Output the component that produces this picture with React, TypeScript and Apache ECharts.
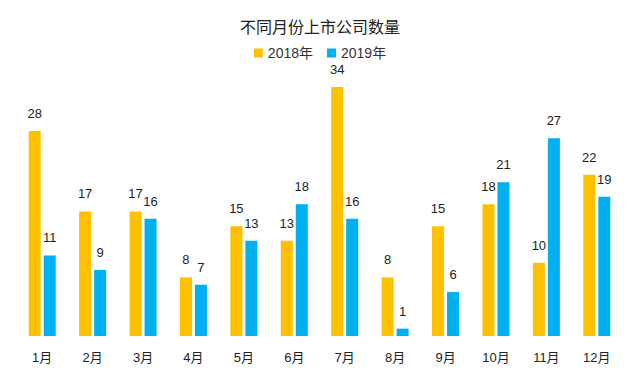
import React, { useEffect, useRef } from "react";
import * as echarts from "echarts";

const categories = ["1月", "2月", "3月", "4月", "5月", "6月", "7月", "8月", "9月", "10月", "11月", "12月"];
const series2018 = [28, 17, 17, 8, 15, 13, 34, 8, 15, 18, 10, 22];
const series2019 = [11, 9, 16, 7, 13, 18, 16, 1, 6, 21, 27, 19];
const seriesNames = ["2018年", "2019年"];
const titleText = "不同月份上市公司数量";

const FONT = "'Liberation Sans', 'Noto Sans CJK SC', sans-serif";

export default function App() {
  const ref = useRef<HTMLDivElement>(null);
  useEffect(() => {
    if (!ref.current) return;
    const chart = echarts.init(ref.current, undefined, { renderer: "svg" });
    const label = {
      show: true,
      position: "top" as const,
      distance: 11,
      color: "#222",
      fontSize: 13,
      fontFamily: FONT,
    };
    chart.setOption({
      animation: false,
      backgroundColor: "#fff",
      title: {
        text: titleText,
        left: "center",
        top: 14,
        textStyle: { fontSize: 16, fontWeight: "normal", color: "#222", fontFamily: FONT },
      },
      legend: {
        top: 41,
        left: "center",
        itemWidth: 9,
        itemHeight: 9,
        itemGap: 14,
        icon: "rect",
        textStyle: { fontSize: 14, color: "#333", fontFamily: FONT },
        data: seriesNames,
      },
      grid: { left: 17, right: 18, top: 43, bottom: 52 },
      xAxis: {
        type: "category",
        data: categories,
        axisLine: { show: false },
        axisTick: { show: false },
        axisLabel: { margin: 15, fontSize: 13, color: "#222", fontFamily: FONT },
      },
      yAxis: {
        type: "value",
        min: 0,
        max: 40,
        interval: 10,
        show: false,
        splitLine: { show: false },
      },
      series: [
        {
          name: seriesNames[0],
          type: "bar",
          data: series2018,
          barWidth: 12,
          barGap: "25%",
          itemStyle: { color: "#FFC000" },
          label,
        },
        {
          name: seriesNames[1],
          type: "bar",
          data: series2019,
          barWidth: 12,
          itemStyle: { color: "#00B0F0" },
          label,
        },
      ],
    });
    return () => chart.dispose();
  }, []);
  return <div ref={ref} style={{ width: 640, height: 388, position: "absolute", left: 0, top: 0 }} />;
}
